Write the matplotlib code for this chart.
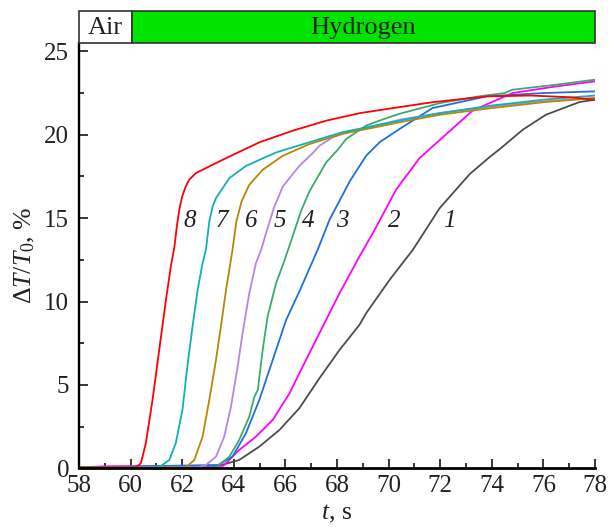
import matplotlib
matplotlib.use("Agg")
import matplotlib.pyplot as plt
from matplotlib.patches import Rectangle
from matplotlib.ticker import MultipleLocator

plt.rcParams['font.family'] = ['Liberation Serif', 'DejaVu Serif']
plt.rcParams['mathtext.fontset'] = 'custom'
plt.rcParams['mathtext.rm'] = 'Liberation Serif'
plt.rcParams['mathtext.it'] = 'Liberation Serif:italic'

# curve data (time, s  /  dT/T0, %)
t1 = [58, 63.2, 64.21, 64.99, 65.77, 66.54, 67.32, 68.1, 68.87, 69.13, 70.04, 70.94, 71.98, 73.15, 73.9, 74.31, 75.2, 76.1, 77.4, 78]
y1 = [0.0, 0.05, 0.5, 1.3, 2.3, 3.6, 5.4, 7.1, 8.6, 9.3, 11.3, 13.1, 15.6, 17.65, 18.64, 19.14, 20.3, 21.2, 21.96, 22.1]

t2 = [58, 59, 63.6, 64.21, 64.86, 65.51, 66.16, 66.8, 67.45, 68.1, 68.87, 69.39, 70.3, 71.2, 71.59, 72.5, 73.26, 74.8, 76.5, 78]
y2 = [0.05, 0.12, 0.15, 1.1, 1.9, 2.9, 4.5, 6.5, 8.5, 10.5, 12.7, 14.1, 16.73, 18.6, 19.14, 20.4, 21.45, 22.5, 22.9, 23.2]

t3 = [58, 63.4, 63.95, 64.47, 64.99, 65.51, 66.03, 66.54, 67.25, 67.71, 68.22, 68.49, 69.13, 69.65, 70.43, 71.7, 73.8, 76, 78]
y3 = [0.05, 0.2, 0.7, 2.1, 4.1, 6.5, 8.9, 10.6, 13.1, 14.9, 16.4, 17.2, 18.74, 19.55, 20.35, 21.6, 22.3, 22.5, 22.6]

t4 = [58, 63.3, 63.83, 64.21, 64.6, 64.8, 64.93, 65.12, 65.31, 65.64, 65.95, 66.28, 66.6, 66.93, 67.58, 68.03, 68.36, 69.13, 69.65, 70.43, 72, 73.5, 74.5, 74.8, 76.5, 78]
y4 = [0.05, 0.05, 0.7, 1.7, 3.1, 4.3, 4.7, 7.1, 9.1, 11.1, 12.4, 13.9, 15.4, 16.6, 18.34, 19.1, 19.75, 20.55, 20.85, 21.26, 21.9, 22.3, 22.5, 22.7, 23.0, 23.3]

t5 = [58, 62.6, 62.92, 63.31, 63.63, 63.89, 64.15, 64.34, 64.6, 64.86, 65.06, 65.25, 65.55, 65.9, 66.54, 67.06, 67.32, 67.84, 68.5, 69.65, 70.43, 72, 74, 76, 78]
y5 = [0.05, 0.05, 0.2, 0.7, 1.9, 3.7, 6.1, 8.1, 10.5, 12.3, 13.1, 14.1, 15.6, 16.9, 18.13, 18.9, 19.34, 19.85, 20.2, 20.6, 20.9, 21.3, 21.7, 22.0, 22.2]

t6 = [58, 62.14, 62.47, 62.79, 63.05, 63.31, 63.5, 63.7, 63.95, 64.1, 64.3, 64.6, 65.12, 65.9, 66.93, 68.2, 69.65, 70.43, 72, 74, 76, 78]
y6 = [0.05, 0.05, 0.5, 1.9, 4.1, 6.5, 8.5, 10.7, 13.1, 14.8, 16.0, 17.0, 17.9, 18.74, 19.44, 20.05, 20.5, 20.75, 21.2, 21.6, 21.95, 22.2]

t7 = [58, 61.1, 61.5, 61.75, 62.01, 62.2, 62.4, 62.6, 62.79, 62.92, 63.05, 63.18, 63.31, 63.57, 63.83, 64.47, 65.64, 66.93, 68.2, 69.65, 70.43, 72, 74, 76, 78]
y7 = [0.05, 0.05, 0.5, 1.5, 3.5, 6.1, 8.5, 10.7, 12.3, 13.1, 14.8, 15.7, 16.2, 16.8, 17.4, 18.13, 18.94, 19.55, 20.15, 20.6, 20.85, 21.3, 21.75, 22.1, 22.35]

t8 = [58, 60.2, 60.4, 60.59, 60.85, 61.11, 61.37, 61.56, 61.7, 61.8, 61.9, 62.0, 62.14, 62.27, 62.53, 62.92, 63.57, 65.0, 66.3, 67.6, 68.9, 70.4, 71.7, 73.8, 75.5, 77.0, 78]
y8 = [0.05, 0.05, 0.3, 1.5, 4.1, 7.1, 10.1, 12.1, 13.3, 14.6, 15.6, 16.3, 16.9, 17.3, 17.7, 18.0, 18.5, 19.55, 20.25, 20.85, 21.3, 21.65, 21.95, 22.3, 22.35, 22.25, 22.1]

curves = [(t1, y1), (t2, y2), (t3, y3), (t4, y4), (t5, y5), (t6, y6), (t7, y7), (t8, y8)]
colors = ['#4d4d4d', '#ff00ff', '#1f6fe0', '#3caa6e', '#b884e8', '#b8860b', '#13b0b0', '#ff0000']

# curve number labels
lab_names = ['1', '2', '3', '4', '5', '6', '7', '8']
lab_x = [72.37, 70.2, 68.2, 66.9, 65.8, 64.69, 63.54, 62.3]
lab_y = 14.8

fig = plt.figure(figsize=(6.1, 5.27), dpi=100)
ax = fig.add_axes([0.1295, 0.1114, 0.8459, 0.807])

for (t, y), c in zip(curves, colors):
    ax.plot(t, y, color=c, lw=1.3)

for name, x in zip(lab_names, lab_x):
    ax.text(x, lab_y, name, fontsize=18, style='italic', color='#222222', ha='center', va='center')

ax.set_xlim(58, 78)
ax.set_ylim(0, 25.5)
ax.xaxis.set_major_locator(MultipleLocator(2))
ax.xaxis.set_minor_locator(MultipleLocator(1))
ax.yaxis.set_major_locator(MultipleLocator(5))
ax.yaxis.set_minor_locator(MultipleLocator(2.5))
ax.tick_params(which='both', direction='in', width=1.1, labelsize=18, labelcolor='#222222')
ax.tick_params(which='major', length=6.5)
ax.tick_params(which='minor', length=3.5)
ax.tick_params(axis='x', pad=5)
ax.tick_params(axis='y', pad=7)
ax.spines['top'].set_visible(False)
ax.spines['right'].set_visible(False)
ax.spines['left'].set_linewidth(1.7)
ax.spines['bottom'].set_linewidth(2)

ax.set_xlabel('$t$, s', fontsize=18.5, color='#222222', labelpad=4)
ax.set_ylabel(r'$\Delta T/T_0$, %', fontsize=18.5, color='#222222', labelpad=5)

# gas band above the plot
band = fig.add_axes([0.1295, 0.9184, 0.8459, 0.0607])
band.set_xlim(58, 78)
band.set_ylim(0, 1)
band.axis('off')
band.add_patch(Rectangle((58, 0), 2.05, 1, facecolor='white', edgecolor='#333333', lw=1.2, clip_on=False))
band.add_patch(Rectangle((60.05, 0), 17.95, 1, facecolor='#00e400', edgecolor='#333333', lw=1.2, clip_on=False))
band.text(59.025, 0.47, 'Air', fontsize=19, color='#222222', ha='center', va='center')
band.text(69.0, 0.47, 'Hydrogen', fontsize=19, color='#222222', ha='center', va='center')

fig.savefig('out.png', dpi=100)
